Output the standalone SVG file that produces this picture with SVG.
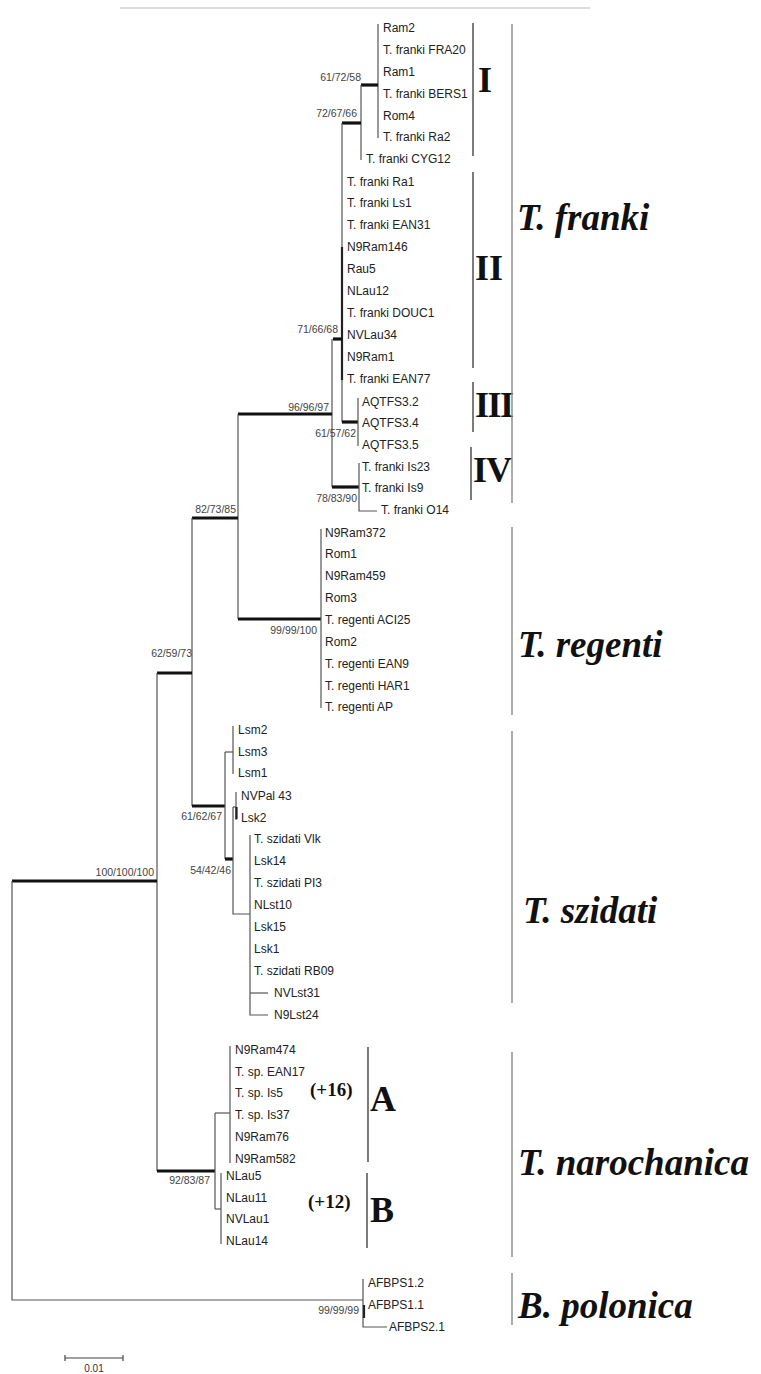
<svg xmlns="http://www.w3.org/2000/svg" width="761" height="1374" viewBox="0 0 761 1374">
  <style>
    .br { stroke: #555; stroke-width: 1.2; fill: none; }
    .bk { stroke: #111; stroke-width: 3.2; fill: none; }
    .bm { stroke: #222; stroke-width: 2.2; fill: none; }
    .lf { font-family: "Liberation Sans", Arial, sans-serif; font-size: 12px; fill: #222; }
    .bs { font-family: "Liberation Sans", Arial, sans-serif; font-size: 10.5px; fill: #444; text-anchor: end; }
    .sub { stroke: #444; stroke-width: 1.4; fill: none; }
    .sp { stroke: #888; stroke-width: 1.4; fill: none; }
    .rn { font-family: "Liberation Serif", "Times New Roman", serif; font-weight: bold; font-size: 36px; fill: #111; }
    .spn { font-family: "Liberation Serif", "Times New Roman", serif; font-weight: bold; font-style: italic; font-size: 37px; fill: #111; }
    .cnt { font-family: "Liberation Serif", "Times New Roman", serif; font-weight: bold; font-size: 19px; fill: #111; }
  </style>
  <rect width="761" height="1374" fill="#fff"/>
  <line x1="120" y1="8" x2="590" y2="8" stroke="#bbb" stroke-width="1"/>

  <!-- branches -->
  <g id="connectors">
    <!-- clade I -->
    <path class="br" d="M378 24V138"/>
    <path class="bk" d="M361 85H378"/>
    <path class="br" d="M361 85V160"/>
    <path class="bk" d="M342 123H361"/>
    <!-- clade II polytomy -->
    <path class="br" d="M342 123V422"/>
    <path class="bm" d="M342 247V380"/>
    <path class="bk" d="M333 339H342"/>
    <!-- clade III -->
    <path class="bk" d="M342 422H358"/>
    <path class="br" d="M358 398V446"/>
    <!-- clade IV -->
    <path class="br" d="M332 339V487"/>
    <path class="bk" d="M332 487H359"/>
    <path class="br" d="M359 463V511H377"/>
    <!-- T. franki stem -->
    <path class="bk" d="M238 414H332"/>
    <path class="br" d="M238 414V619"/>
    <!-- T. regenti -->
    <path class="bk" d="M238 619H321"/>
    <path class="br" d="M321 529V708"/>
    <path class="bk" d="M192 518H238"/>
    <path class="br" d="M192 518V806"/>
    <!-- T. szidati -->
    <path class="bk" d="M192 806H225"/>
    <path class="br" d="M225 752V859"/>
    <path class="br" d="M225 752H233"/>
    <path class="br" d="M233 726V774"/>
    <path class="bk" d="M225 859H233"/>
    <path class="br" d="M233 807V914H250"/>
    <path class="br" d="M233 807H236"/>
    <path class="br" d="M236 792V820"/>
    <path class="bm" d="M236.5 807V819" stroke="#888"/>
    <path class="br" d="M250 835V1015H268"/>
    <path class="br" d="M250 993H268"/>
    <!-- root side, first lineage -->
    <path class="bk" d="M157 673H192"/>
    <path class="br" d="M157 673V1171"/>
    <path class="bk" d="M12 881H157"/>
    <!-- T. narochanica -->
    <path class="bk" d="M157 1171H215"/>
    <path class="br" d="M215 1113V1209"/>
    <path class="br" d="M215 1113H230"/>
    <path class="br" d="M230 1046V1163"/>
    <path class="br" d="M215 1209H221"/>
    <path class="br" d="M221 1173V1244"/>
    <!-- outgroup -->
    <path class="br" d="M12 881V1300H363"/>
    <path class="br" d="M363 1279V1327H387"/>
    <path class="bm" d="M364 1305V1318"/>
  </g>

  <!-- leaf labels -->
  <g id="clade-I" class="lf">
    <text x="383" y="32">Ram2</text>
    <text x="383" y="54">T. franki FRA20</text>
    <text x="383" y="76">Ram1</text>
    <text x="383" y="98">T. franki BERS1</text>
    <text x="383" y="120">Rom4</text>
    <text x="383" y="141">T. franki Ra2</text>
    <text x="366" y="163">T. franki CYG12</text>
  </g>
  <g id="clade-II" class="lf">
    <text x="347" y="186">T. franki Ra1</text>
    <text x="347" y="207">T. franki Ls1</text>
    <text x="347" y="229">T. franki EAN31</text>
    <text x="347" y="251">N9Ram146</text>
    <text x="347" y="273">Rau5</text>
    <text x="347" y="295">NLau12</text>
    <text x="347" y="317">T. franki DOUC1</text>
    <text x="347" y="339">NVLau34</text>
    <text x="347" y="361">N9Ram1</text>
    <text x="347" y="383">T. franki EAN77</text>
  </g>
  <g id="clade-III" class="lf">
    <text x="362" y="406">AQTFS3.2</text>
    <text x="362" y="427">AQTFS3.4</text>
    <text x="362" y="449">AQTFS3.5</text>
  </g>
  <g id="clade-IV" class="lf">
    <text x="362" y="471">T. franki Is23</text>
    <text x="362" y="492">T. franki Is9</text>
    <text x="381" y="514">T. franki O14</text>
  </g>
  <g id="regenti" class="lf">
    <text x="325" y="537">N9Ram372</text>
    <text x="325" y="558">Rom1</text>
    <text x="325" y="580">N9Ram459</text>
    <text x="325" y="602">Rom3</text>
    <text x="325" y="624">T. regenti ACI25</text>
    <text x="325" y="646">Rom2</text>
    <text x="325" y="668">T. regenti EAN9</text>
    <text x="325" y="690">T. regenti HAR1</text>
    <text x="325" y="711">T. regenti AP</text>
  </g>
  <g id="szidati" class="lf">
    <text x="238" y="734">Lsm2</text>
    <text x="238" y="756">Lsm3</text>
    <text x="238" y="777">Lsm1</text>
    <text x="241" y="800">NVPal 43</text>
    <text x="241" y="822">Lsk2</text>
    <text x="254" y="843">T. szidati Vlk</text>
    <text x="254" y="865">Lsk14</text>
    <text x="254" y="887">T. szidati PI3</text>
    <text x="254" y="909">NLst10</text>
    <text x="254" y="931">Lsk15</text>
    <text x="254" y="953">Lsk1</text>
    <text x="254" y="975">T. szidati RB09</text>
    <text x="274" y="997">NVLst31</text>
    <text x="274" y="1019">N9Lst24</text>
  </g>
  <g id="narochanica-A" class="lf">
    <text x="235" y="1054">N9Ram474</text>
    <text x="235" y="1076">T. sp. EAN17</text>
    <text x="235" y="1097">T. sp. Is5</text>
    <text x="235" y="1119">T. sp. Is37</text>
    <text x="235" y="1141">N9Ram76</text>
    <text x="235" y="1163">N9Ram582</text>
  </g>
  <g id="narochanica-B" class="lf">
    <text x="226" y="1180">NLau5</text>
    <text x="226" y="1202">NLau11</text>
    <text x="226" y="1223">NVLau1</text>
    <text x="226" y="1245">NLau14</text>
  </g>
  <g id="polonica" class="lf">
    <text x="368" y="1287">AFBPS1.2</text>
    <text x="368" y="1309">AFBPS1.1</text>
    <text x="389" y="1331">AFBPS2.1</text>
  </g>

  <!-- bootstrap support values -->
  <g id="support" class="bs">
    <text x="361" y="81">61/72/58</text>
    <text x="357" y="117">72/67/66</text>
    <text x="338" y="333">71/66/68</text>
    <text x="329" y="411">96/96/97</text>
    <text x="356" y="437">61/57/62</text>
    <text x="357" y="502">78/83/90</text>
    <text x="236" y="513">82/73/85</text>
    <text x="317" y="634">99/99/100</text>
    <text x="192" y="657">62/59/73</text>
    <text x="222" y="820">61/62/67</text>
    <text x="231" y="874">54/42/46</text>
    <text x="154" y="876">100/100/100</text>
    <text x="210" y="1184">92/83/87</text>
    <text x="359" y="1314">99/99/99</text>
  </g>

  <!-- subclade brackets -->
  <g id="subclades">
    <path class="sub" d="M473 23V156"/>
    <text class="rn" x="478" y="92" font-size="37">I</text>
    <path class="sub" d="M473 172V368"/>
    <text class="rn" x="475" y="280">II</text>
    <path class="sub" d="M473 382V432"/>
    <text class="rn" x="475" y="417" letter-spacing="-1.5">III</text>
    <path class="sub" d="M471 447V500"/>
    <text class="rn" x="473" y="482" letter-spacing="-1">IV</text>
    <path class="sub" d="M368 1047V1162"/>
    <text class="rn" x="370" y="1111" fill="#3a3a3a">A</text>
    <path class="sub" d="M367 1173V1248"/>
    <text class="rn" x="370" y="1222" fill="#3a3a3a">B</text>
    <text class="cnt" x="310" y="1096">(+16)</text>
    <text class="cnt" x="308" y="1208" font-size="18">(+12)</text>
  </g>

  <!-- species brackets -->
  <g id="species">
    <path class="sp" d="M512 24V503"/>
    <text class="spn" x="517" y="230">T. franki</text>
    <path class="sp" d="M512 527V715"/>
    <text class="spn" x="518" y="657">T. regenti</text>
    <path class="sp" d="M512 731V1003" stroke="#aaa"/>
    <text class="spn" x="523" y="923" fill="#666">T. szidati</text>
    <path class="sp" d="M512 1052V1257"/>
    <text class="spn" x="518" y="1175" fill="#3a3a3a">T. narochanica</text>
    <path class="sp" d="M512 1273V1325"/>
    <text class="spn" x="518" y="1318">B. polonica</text>
  </g>

  <!-- scale bar -->
  <g id="scale">
    <path d="M65 1358H123M65 1355V1361M123 1355V1361" stroke="#444" stroke-width="1.2" fill="none"/>
    <text x="94" y="1372" text-anchor="middle" font-family="Liberation Sans, Arial, sans-serif" font-size="10" fill="#333">0.01</text>
  </g>
</svg>
